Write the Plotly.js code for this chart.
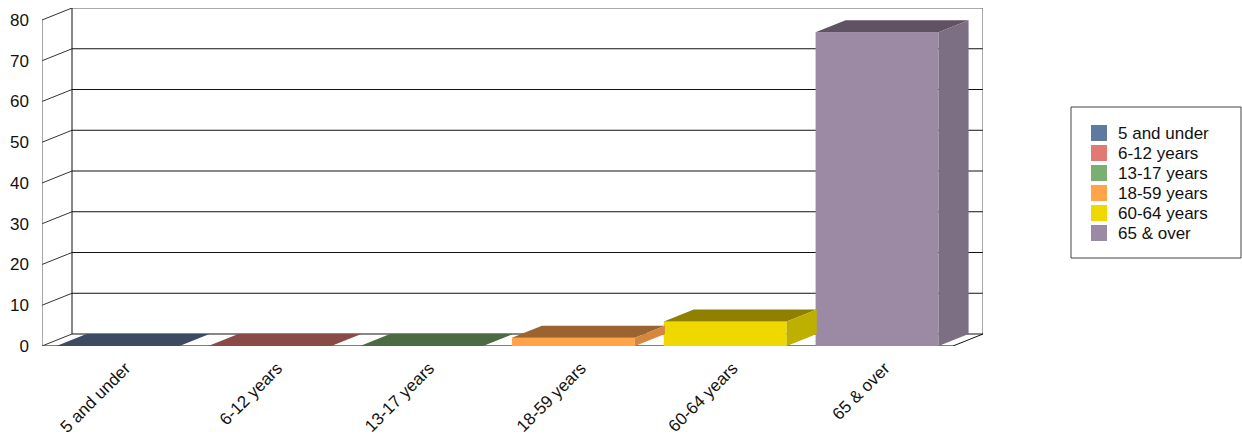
<!DOCTYPE html>
<html>
<head>
<meta charset="utf-8">
<script src="https://cdn.plot.ly/plotly-3.0.1.min.js"></script>
<style>html,body{margin:0;padding:0;background:#fff;}#chart{width:1242px;height:436px;}</style>
</head>
<body>
<div id="chart"></div>
<script>
// ---- data ----
const categories = ["5 and under", "6-12 years", "13-17 years", "18-59 years", "60-64 years", "65 & over"];
const values = [0, 0, 0, 2.0, 6.0, 77];
const yTickVals = [0, 10, 20, 30, 40, 50, 60, 70, 80];
const frontColors = ["#5f7aa1", "#e07a72", "#79b072", "#ffa449", "#eed800", "#9c8aa5"];
const topColors = ["#3d4b62", "#8a4a47", "#4c6b44", "#9a632f", "#8f8000", "#5f5263"];
const sideColors = ["#3a475c", "#7a413e", "#44603d", "#d4883f", "#beb000", "#7c6e83"];

// ---- geometry (pixels) ----
const W = 1242, H = 436;
const M = {l: 42, r: 259, t: 8, b: 90};
const plotW = W - M.l - M.r, plotH = H - M.t - M.b;
const depthXpx = 30, depthYpx = 12;
const n = categories.length;
const catPx = (plotW - depthXpx) / n;
const yMax = 80;
const unitPx = (plotH - depthYpx) / yMax;
const xRange = [-0.5, -0.5 + plotW / catPx];
const yRange = [0, plotH / unitPx];
const dx = depthXpx / catPx, dy = depthYpx / unitPx;
const barW = 0.81;
const xL = -0.5, xR = n - 0.5;

const shapes = [];
const annotations = [];
const lineBelow = (x0, y0, x1, y1, c, w) => shapes.push({type: 'line', xref: 'x', yref: 'y', x0, y0, x1, y1, layer: 'below', line: {color: c, width: w || 1}});
const path = (pts, fill, layer) => shapes.push({type: 'path', xref: 'x', yref: 'y', layer: layer || 'above',
  path: 'M' + pts.map(p => p[0] + ',' + p[1]).join('L') + 'Z', fillcolor: fill, line: {width: 0}});

// back wall gridlines + left wall tick slants
yTickVals.forEach(v => {
  lineBelow(xL + dx, v + dy, xR + dx, v + dy, v === yMax ? '#555' : '#111', 1);
  lineBelow(xL, v, xL + dx, v + dy, '#333', 1);
});
// back wall edges
lineBelow(xL + dx, dy, xL + dx, yMax + dy, '#111', 1);
lineBelow(xR + dx, dy, xR + dx, yMax + dy, '#555', 1);
// front axis and floor
lineBelow(xL, 0, xL, yMax, '#555', 1);
lineBelow(xL, 0, xR, 0, '#555', 1.5);
lineBelow(xR, 0, xR + dx, dy, '#111', 1);

// 3D faces for bars
values.forEach((v, i) => {
  const x0 = i - barW / 2, x1 = i + barW / 2;
  path([[x0, v], [x1, v], [x1 + dx, v + dy], [x0 + dx, v + dy]], topColors[i]);
  if (v > 0) path([[x1, 0], [x1, v], [x1 + dx, v + dy], [x1 + dx, dy]], sideColors[i]);
});

// legend (box, swatches, labels)
const px2paperX = p => (p - M.l) / plotW;
const px2paperY = p => (H - M.b - p) / plotH;
shapes.push({type: 'rect', xref: 'paper', yref: 'paper', x0: px2paperX(1071), x1: px2paperX(1241),
  y0: px2paperY(258), y1: px2paperY(107), line: {color: '#444', width: 1}, fillcolor: 'rgba(0,0,0,0)'});
const legTop = 133, legStep = 20, sw = 16;
categories.forEach((c, i) => {
  const cy = legTop + i * legStep;
  shapes.push({type: 'rect', xref: 'paper', yref: 'paper', x0: px2paperX(1091), x1: px2paperX(1091 + sw),
    y0: px2paperY(cy + sw / 2), y1: px2paperY(cy - sw / 2), line: {width: 0}, fillcolor: frontColors[i]});
  annotations.push({xref: 'paper', yref: 'paper', x: px2paperX(1116), y: px2paperY(cy), text: c,
    xanchor: 'left', yanchor: 'middle', showarrow: false});
});

const traces = categories.map((c, i) => ({
  type: 'bar', name: c, x: [i], y: [values[i]], width: barW,
  marker: {color: frontColors[i], line: {width: 0}},
  hoverinfo: 'name+y', showlegend: false
}));

const font = {family: 'Arial, "Liberation Sans", sans-serif', size: 17, color: '#111'};
const layout = {
  width: W, height: H, margin: M,
  paper_bgcolor: '#fff', plot_bgcolor: 'rgba(0,0,0,0)',
  font: font, barmode: 'overlay', showlegend: false,
  xaxis: {range: xRange, tickvals: categories.map((c, i) => i + 0.05), ticktext: categories,
    tickangle: -45, showgrid: false, zeroline: false, showline: false, ticks: '', fixedrange: true,
    ticklabelstandoff: 8, tickfont: font},
  yaxis: {range: yRange, tickvals: yTickVals, showgrid: false, zeroline: false, showline: false,
    ticks: '', ticklabelstandoff: 12, fixedrange: true, tickfont: font},
  shapes: shapes,
  annotations: annotations
};
Plotly.newPlot('chart', traces, layout, {displayModeBar: false, staticPlot: true});
</script>
</body>
</html>
